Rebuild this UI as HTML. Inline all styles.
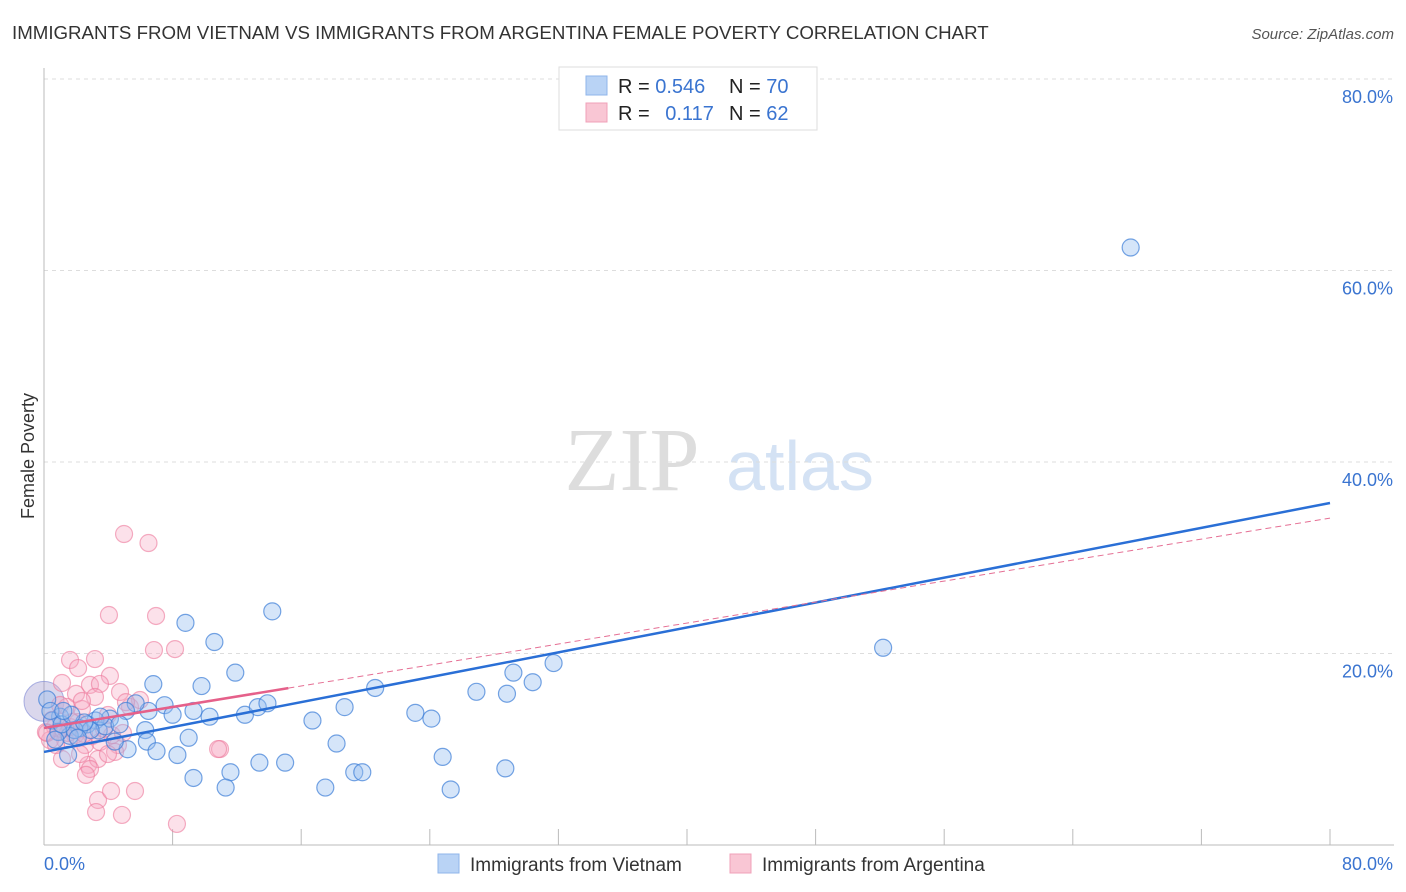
<!DOCTYPE html>
<html><head><meta charset="utf-8"><style>
body{margin:0;background:#fff;font-family:"Liberation Sans",sans-serif;}
svg{display:block}
</style></head><body>
<svg id="c" width="1406" height="892">
<text x="12" y="39" font-size="18.7" fill="#333">IMMIGRANTS FROM VIETNAM VS IMMIGRANTS FROM ARGENTINA FEMALE POVERTY CORRELATION CHART</text>
<text x="1394" y="39" font-size="15" fill="#555" text-anchor="end" font-style="italic">Source: ZipAtlas.com</text>
<text x="34" y="456" font-size="18" fill="#333" text-anchor="middle" transform="rotate(-90 34 456)">Female Poverty</text>
<text x="632" y="490" font-size="90" fill="#ddd" font-family="Liberation Serif,serif" text-anchor="middle">ZIP</text>
<text x="800" y="490" font-size="70" fill="#d4e2f4" text-anchor="middle">atlas</text>
<g id="grid"></g><g id="pts"></g><g id="lines"></g>
<g>
<rect x="559" y="67" width="258" height="63" fill="#fff" stroke="#ddd"/>
<rect x="586" y="76" width="21" height="19" fill="#b9d3f5" stroke="#8fb4ea"/>
<rect x="586" y="103" width="21" height="19" fill="#f9c6d4" stroke="#f0a0b8"/>
<text x="618" y="93" font-size="20" fill="#222">R = <tspan fill="#3a74d0">0.546</tspan></text>
<text x="729" y="93" font-size="20" fill="#222">N = <tspan fill="#3a74d0">70</tspan></text>
<text x="618" y="120" font-size="20" fill="#222">R = <tspan fill="#3a74d0" dx="10">0.117</tspan></text>
<text x="729" y="120" font-size="20" fill="#222">N = <tspan fill="#3a74d0">62</tspan></text>
</g>
<g>
<rect x="438" y="854" width="21" height="19" fill="#b9d3f5" stroke="#8fb4ea"/>
<text x="470" y="871" font-size="19" fill="#333">Immigrants from Vietnam</text>
<rect x="730" y="854" width="21" height="19" fill="#f9c6d4" stroke="#f0a0b8"/>
<text x="762" y="871" font-size="19" fill="#333">Immigrants from Argentina</text>
</g>
</svg>
<script>
const yTicks=[20,40,60,80];
const xTickLabels=["0.0%","80.0%"];
const blueX=[67.6,52.2,14.2,8.8,10.6,11.9,6.8,9.8,20.6,31.7,29.2,30.4,26.9,28.8,18.7,23.1,24.1,7.5,9.3,12.5,13.3,13.9,16.7,10.3,8.0,6.5,5.7,5.1,4.1,3.2,2.7,1.0,0.5,0.2,0.4,6.3,9.0,6.4,5.2,7.0,8.3,18.2,24.8,11.6,9.3,13.4,15.0,19.3,19.8,28.7,11.3,17.5,25.3,3.4,2.2,1.6,3.8,0.9,4.4,1.5,1.9,0.7,4.7,2.9,3.5,2.5,1.1,1.7,2.1,1.2];
const blueY=[62.4,20.6,24.4,23.2,21.2,18.0,16.8,16.6,16.4,19.0,18.0,17.0,16.0,15.8,14.4,13.8,13.2,14.6,14.0,13.6,14.4,14.8,13.0,13.4,13.6,14.0,14.8,14.0,13.2,13.0,12.6,13.4,13.0,15.2,14.0,12.0,11.2,10.8,10.0,9.8,9.4,10.6,9.2,7.6,7.0,8.6,8.6,7.6,7.6,8.0,6.0,6.0,5.8,11.96,12.2,11.4,12.4,11.8,10.8,9.4,12.0,11.0,12.6,12.0,13.4,12.8,12.6,13.6,11.2,14.0];
const pinkX=[4.98,6.5,4.04,6.97,6.84,8.15,1.62,3.17,2.12,4.1,2.86,3.48,4.73,1.12,1.99,1.43,2.36,3.17,3.98,5.35,5.97,0.68,1.31,1.93,2.55,0.87,1.49,2.99,3.48,4.6,4.23,1.0,0.37,4.42,2.74,3.36,2.24,1.12,2.86,2.61,3.98,5.1,0.12,0.5,1.62,2.12,2.49,10.95,10.83,3.36,5.66,4.17,3.24,4.85,8.27,1.74,3.73,4.91,0.75,1.31,0.19,2.36];
const pinkY=[32.48,31.54,24.02,23.92,20.36,20.46,19.32,19.42,18.48,17.66,16.72,16.82,15.98,16.92,15.78,14.42,14.2,15.46,13.58,14.42,15.14,12.32,10.96,11.48,10.44,11.9,11.7,11.38,10.76,10.44,11.48,14.62,10.96,9.72,8.36,8.98,9.5,8.98,7.94,7.32,9.5,14.92,11.8,13.06,12.32,12.84,11.6,10.02,10.02,4.7,5.64,5.64,3.44,3.14,2.2,12.84,12.12,11.7,10.44,12.22,11.7,15.04];
const blueLine=[9.72,35.72];
const pinkIntercept=12.22, pinkSlope=0.274, pinkSolidEnd=15.2;
const X0=44,X1=1330,Y0=845,PXY=(845-79)/80;
const sx=v=>X0+(v/80)*(X1-X0), sy=v=>Y0-v*PXY;
const NS="http://www.w3.org/2000/svg";
function mk(t,a,p){const e=document.createElementNS(NS,t);for(const k in a)e.setAttribute(k,a[k]);p.appendChild(e);return e;}
const g=document.getElementById('grid');
yTicks.forEach(t=>{
 const l=mk('line',{x1:X0,x2:1394,y1:sy(t),y2:sy(t),stroke:'#ddd','stroke-dasharray':'4,4'},g);
 
 
 const tx=mk('text',{x:1393,y:sy(t)+24,'font-size':18,fill:'#3a74d0','text-anchor':'end'},g);tx.textContent=t.toFixed(1)+'%';
 
 
});
mk('line',{x1:X0,x2:X0,y1:68,y2:845,stroke:'#bbb'},g);
mk('line',{x1:X0,x2:1394,y1:845,y2:845,stroke:'#bbb'},g);
for(let i=0;i<=10;i++){mk('line',{x1:sx(i*8),x2:sx(i*8),y1:829,y2:845,stroke:'#bbb'},g);}
const xl=mk('text',{x:44,y:870,'font-size':18,fill:'#3a74d0'},g);xl.textContent=xTickLabels[0];


const xr=mk('text',{x:1393,y:870,'font-size':18,fill:'#3a74d0','text-anchor':'end'},g);xr.textContent=xTickLabels[1];


const P=document.getElementById('pts');
const big1=mk('circle',{cx:sx(0),cy:sy(15),r:20,fill:'rgba(150,140,200,0.35)',stroke:'rgba(120,130,210,0.6)'},P);


pinkX.forEach((x,i)=>{const c=mk('circle',{cx:sx(x),cy:sy(pinkY[i]),r:8.5,fill:'rgba(246,170,195,0.35)',stroke:'rgba(236,120,155,0.6)','stroke-width':1.2},P);
 
 });
blueX.forEach((x,i)=>{const c=mk('circle',{cx:sx(x),cy:sy(blueY[i]),r:8.5,fill:'rgba(150,190,240,0.4)',stroke:'rgba(60,125,215,0.7)','stroke-width':1.2},P);
 
 });
const L=document.getElementById('lines');
const bl=mk('line',{x1:sx(0),y1:sy(blueLine[0]),x2:sx(80),y2:sy(blueLine[1]),stroke:'#2a6fd6','stroke-width':2.5},L);


const pd=mk('line',{x1:sx(pinkSolidEnd),y1:sy(pinkIntercept+pinkSlope*pinkSolidEnd),x2:sx(80),y2:sy(pinkIntercept+pinkSlope*80),stroke:'#e56f94','stroke-width':1,'stroke-dasharray':'6,4'},L);


const ps=mk('line',{x1:sx(0),y1:sy(pinkIntercept),x2:sx(pinkSolidEnd),y2:sy(pinkIntercept+pinkSlope*pinkSolidEnd),stroke:'#e5608a','stroke-width':2.5},L);


</script>
</body></html>
